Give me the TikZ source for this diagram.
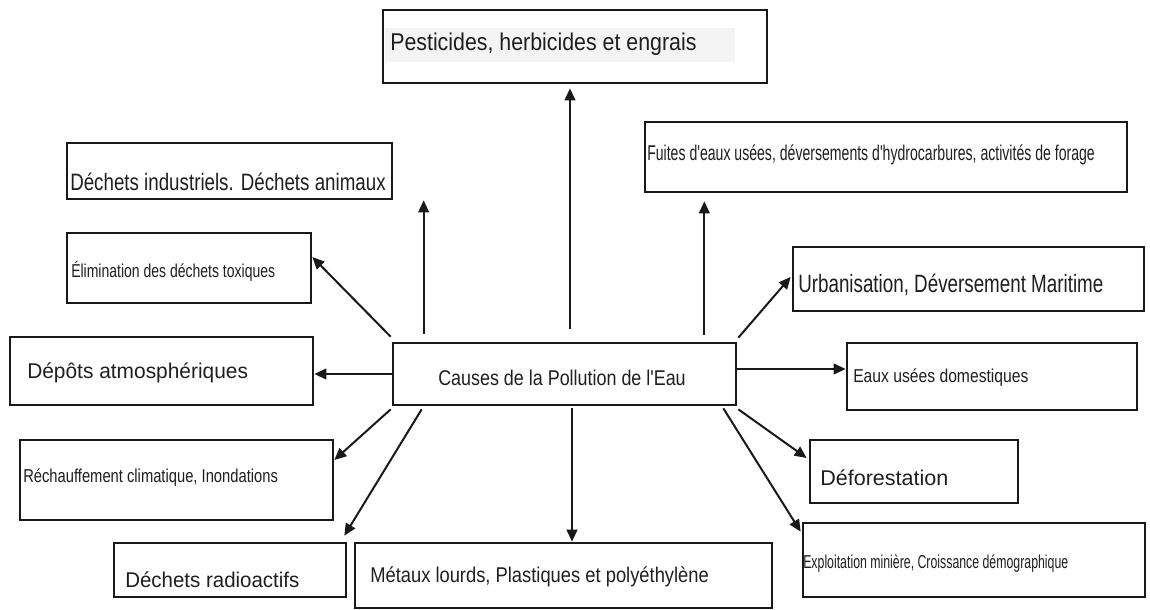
\documentclass[tikz,border=0pt]{standalone}
\usepackage{graphicx}
\usepackage{fontspec}
\setmainfont{Liberation Sans}
\usepackage{tikz}
\usetikzlibrary{arrows.meta,calc,fit}

\newcommand{\sx}[2]{\scalebox{#1}[1]{#2}}
\newcommand{\fs}[1]{\fontsize{#1}{#1}\selectfont}
\newcommand{\apo}{\textquotesingle}

\tikzset{
  cbox/.style={draw=black!90, line width=2pt, inner sep=0pt},
  ctext/.style={anchor=base west, inner sep=0pt, text=black!88},
  carrow/.style={->, line width=1.5pt, draw=black!90},
}

\begin{document}
\begin{tikzpicture}[x=0.75pt,y=-0.75pt,>={Triangle[length=9pt,width=8pt]}]
\useasboundingbox[fill=white] (0,0) rectangle (1150,610);

% boxes
\node[fill=gray!9, inner sep=0pt, fit={(385,28) (735,62)}] (pesthl) {};
\node[cbox, fit={(383,10) (767,83)}] (pest) {};
\node[cbox, fit={(67,143) (392,199)}] (ind) {};
\node[cbox, fit={(645,122) (1127,192)}] (fuite) {};
\node[cbox, fit={(67,233) (311,303)}] (elim) {};
\node[cbox, fit={(793,247) (1144,311)}] (urb) {};
\node[cbox, fit={(10,337) (313,405)}] (dep) {};
\node[cbox, fit={(393,343) (736,405)}] (cause) {};
\node[cbox, fit={(847,343) (1137,410)}] (eaux) {};
\node[cbox, fit={(20,440) (333,520)}] (rech) {};
\node[cbox, fit={(810,440) (1018,503)}] (defo) {};
\node[cbox, fit={(114,543) (346,597)}] (radio) {};
\node[cbox, fit={(355,543) (772,608)}] (met) {};
\node[cbox, fit={(803,523) (1145,597)}] (expl) {};

% labels
\node[ctext, font=\fs{18.2}] (tpest) at (390,51) {\sx{0.88}{Pesticides, herbicides et engrais}};
\node[ctext, font=\fs{17.8}] (tind) at (70,190) {\sx{0.79}{Déchets industriels. Déchets animaux}};
\node[ctext, font=\fs{16}] (tfuite) at (647,160) {\sx{0.66}{Fuites d\apo eaux usées, déversements d\apo hydrocarbures, activités de forage}};
\node[ctext, font=\fs{14}] (telim) at (71,277) {\sx{0.75}{Élimination des déchets toxiques}};
\node[ctext, font=\fs{18.8}] (turb) at (798,292) {\sx{0.75}{Urbanisation, Déversement Maritime}};
\node[ctext, font=\fs{16}] (tdep) at (27,378) {\sx{0.98}{Dépôts atmosphériques}};
\node[ctext, font=\fs{16}] (tcause) at (438,385) {\sx{0.84}{Causes de la Pollution de l\apo Eau}};
\node[ctext, font=\fs{14}] (teaux) at (853,382) {\sx{0.84}{Eaux usées domestiques}};
\node[ctext, font=\fs{14}] (trech) at (23,482) {\sx{0.79}{Réchauffement climatique, Inondations}};
\node[ctext, font=\fs{16}] (tdefo) at (820,485) {\sx{1.01}{Déforestation}};
\node[ctext, font=\fs{16}] (tradio) at (125,587) {\sx{0.96}{Déchets radioactifs}};
\node[ctext, font=\fs{16}] (tmet) at (370,582) {\sx{0.86}{Métaux lourds, Plastiques et polyéthylène}};
\node[ctext, font=\fs{14}] (texpl) at (803,568) {\sx{0.66}{Exploitation minière, Croissance démographique}};

% arrows
\draw[carrow] ($(cause.north)+(5.5,-13)$) -- ($(pest.south)+(-5,4)$);
\draw[carrow] ($(cause.north west)+(32,-8)$) -- ($(cause.north west |- ind.south)+(32,0)$);
\draw[carrow] ($(cause.north east)+(-33,-7)$) -- ($(cause.north east |- fuite.south)+(-33,8)$);
\draw[carrow] ($(cause.north west)+(-1,-5)$) -- ($(elim.east)+(0,-11)$);
\draw[carrow] ($(cause.north east)+(1,-4)$) -- ($(urb.west)+(-1,-2)$);
\draw[carrow] (cause.west) -- (cause.west -| dep.east);
\draw[carrow] ($(cause.east)+(0,-5)$) -- ($(cause.east -| eaux.west)+(0,-5)$);
\draw[carrow] ($(cause.south west)+(-1,3)$) -- ($(rech.east)+(0,-20)$);
\draw[carrow] ($(cause.south west)+(30,3)$) -- ($(radio.north east)+(-3,-6)$);
\draw[carrow] ($(cause.south)+(7.5,2)$) -- ($(cause.south |- met.north)+(7.5,0)$);
\draw[carrow] ($(cause.south east)+(1,3)$) -- ($(defo.west)+(-2,-13.5)$);
\draw[carrow] ($(cause.south east)+(-14,2)$) -- ($(expl.north west)+(-1,10)$);
\end{tikzpicture}
\end{document}
